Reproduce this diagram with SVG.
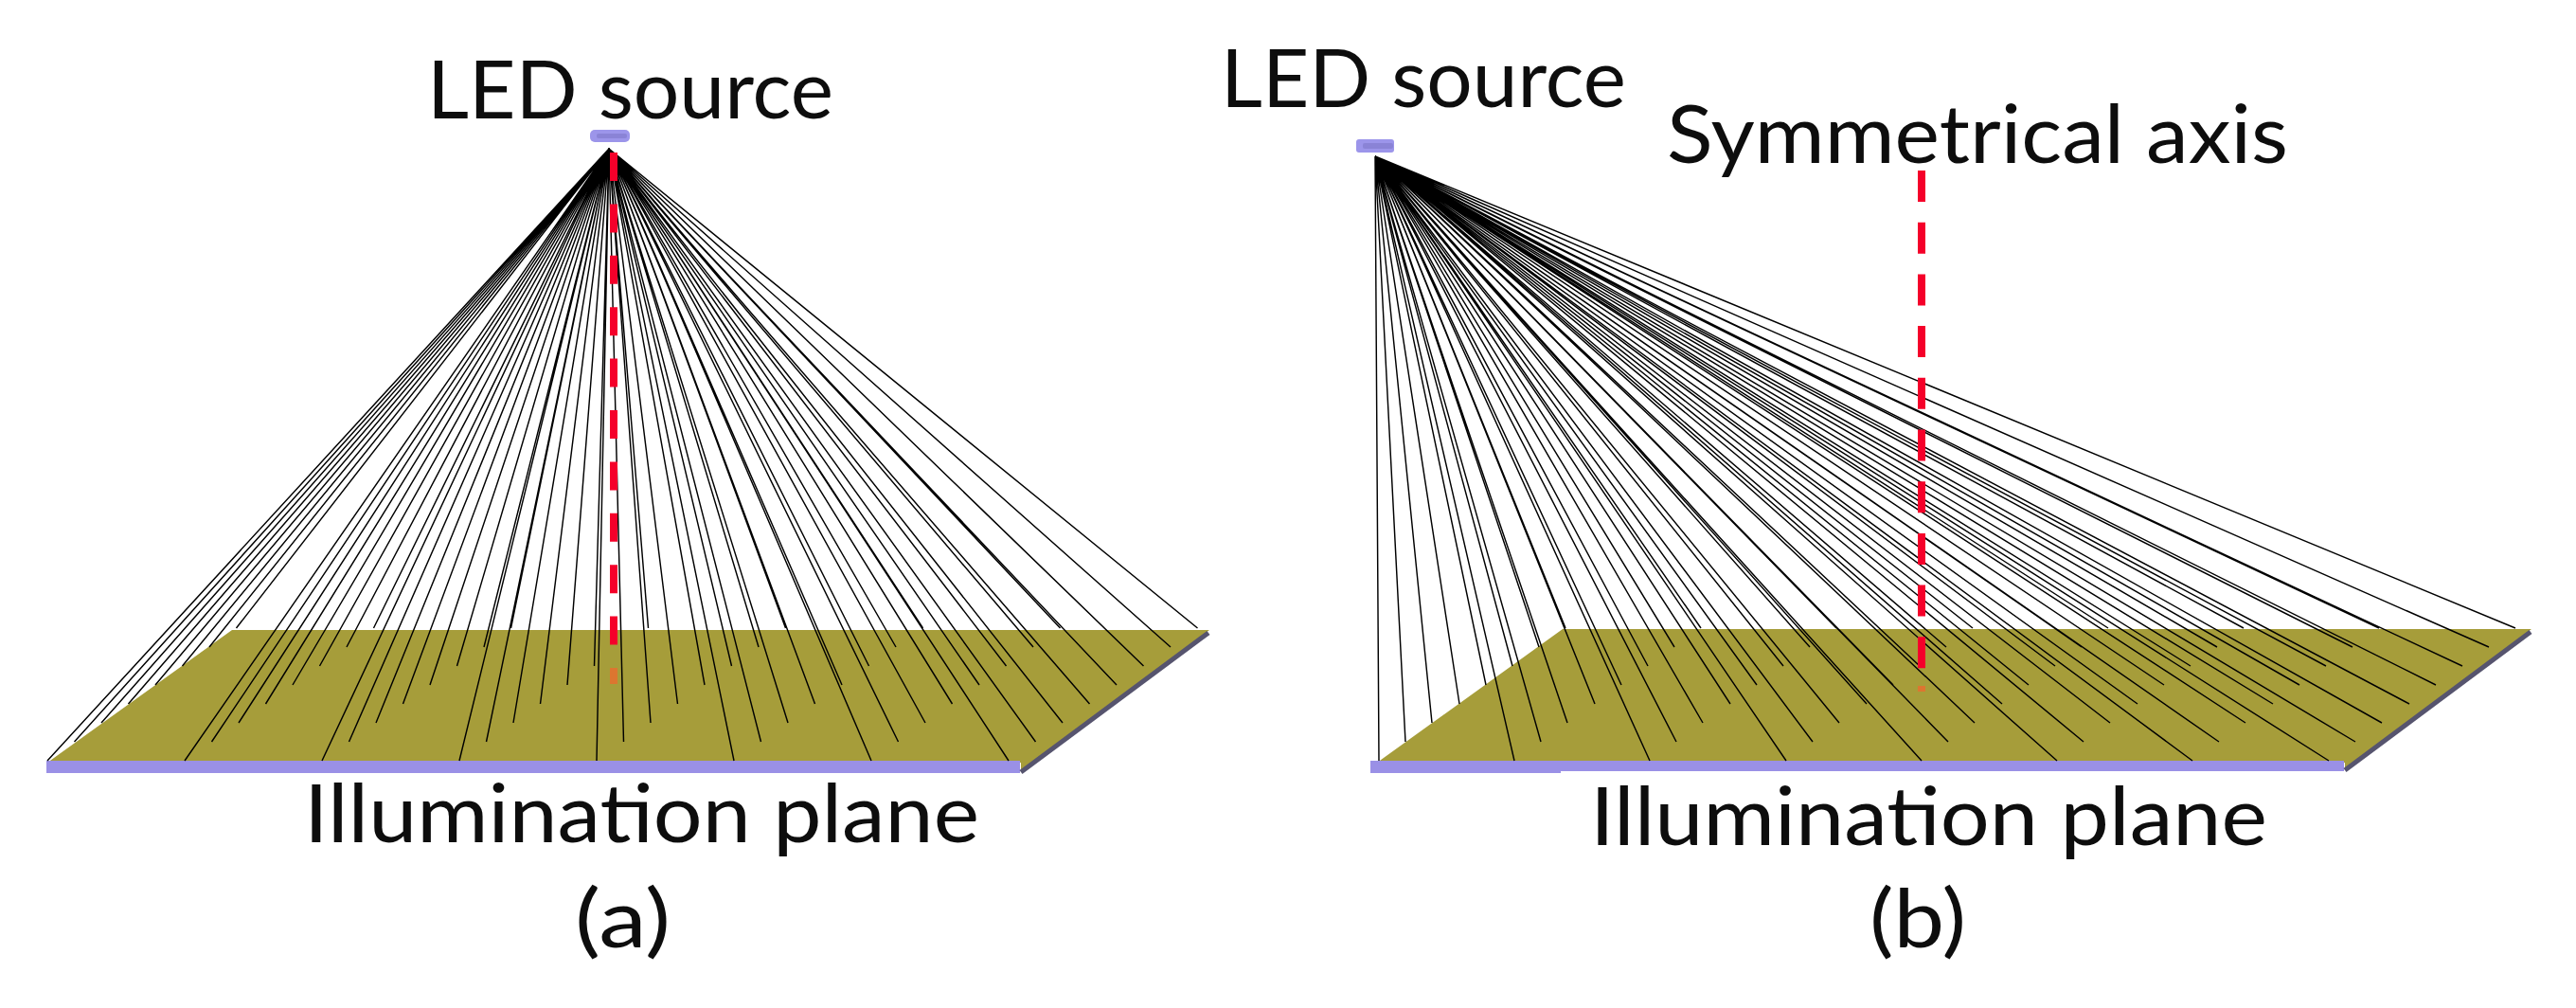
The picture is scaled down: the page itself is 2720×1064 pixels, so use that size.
<svg xmlns="http://www.w3.org/2000/svg" width="2720" height="1064" viewBox="0 0 2720 1064">
<defs>
<filter id="soft" filterUnits="userSpaceOnUse" x="0" y="0" width="2720" height="1064"><feGaussianBlur stdDeviation="0.7"/></filter>
<filter id="softer" filterUnits="userSpaceOnUse" x="0" y="0" width="2720" height="1064"><feGaussianBlur stdDeviation="0.6"/></filter>
</defs>
<style>
text{font-family:"Lato","Open Sans","Liberation Sans",sans-serif;font-size:86px;fill:#111;filter:url(#softer)}
.plane{fill:#a69d3a}
.bar{fill:#9a90e6}
.edge{stroke:#56546e;stroke-width:5;fill:none}
.led{fill:#9c95ea}
.ledc{fill:#8a83d6}
.rays{stroke:#000;stroke-width:1.45;fill:none;filter:url(#soft)}
.axis{stroke:#f5002a;stroke-width:8;fill:none;filter:url(#softer)}
.fade{stroke:#ee6a2c;stroke-width:8;fill:none;stroke-opacity:.75;filter:url(#softer)}
</style>
<rect width="2720" height="1064" fill="#fff"/>
<g id="plane-a">
<polygon class="plane" points="50,805 245,665 1277,665 1078,815 1078,805"/>
<rect class="bar" x="49" y="803" width="1028" height="13"/>
<line class="edge" x1="1276" y1="668" x2="1078" y2="815"/>
</g>
<g id="plane-b">
<polygon class="plane" points="1454,805 1650,664 2673,664 2476,813 2476,805"/>
<rect class="bar" x="1447" y="803" width="1028" height="11"/>
<rect class="bar" x="1447" y="812" width="201" height="4"/>
<line class="edge" x1="2672" y1="667" x2="2476" y2="813"/>
</g>
<g id="connectors">
<path id="rays-a" class="rays" d="M643 157L50 803M643 157L195 803M643 157L340 803M643 157L485 803M643 157L630 803M643 157L775 803M643 157L920 803M643 157L1065 803
M643 157L78.5 783M643 157L223.5 783M643 157L368.5 783M643 157L513.5 783M643 157L658.5 783M643 157L803.5 783M643 157L948.5 783M643 157L1093.5 783
M643 157L107 763M643 157L252 763M643 157L397 763M643 157L542 763M643 157L687 763M643 157L832 763M643 157L977 763M643 157L1122 763
M643 157L135.5 743M643 157L280.5 743M643 157L425.5 743M643 157L570.5 743M643 157L715.5 743M643 157L860.5 743M643 157L1005.5 743M643 157L1150.5 743
M643 157L164 723M643 157L309 723M643 157L454 723M643 157L599 723M643 157L744 723M643 157L889 723M643 157L1034 723M643 157L1179 723
M643 157L192.5 703M643 157L337.5 703M643 157L482.5 703M643 157L627.5 703M643 157L772.5 703M643 157L917.5 703M643 157L1062.5 703M643 157L1207.5 703
M643 157L221 683M643 157L366 683M643 157L511 683M643 157L656 683M643 157L801 683M643 157L946 683M643 157L1091 683M643 157L1236 683
M643 157L249.5 663M643 157L394.5 663M643 157L539.5 663M643 157L684.5 663M643 157L829.5 663M643 157L974.5 663M643 157L1119.5 663M643 157L1264.5 663"/>
<path id="rays-b" class="rays" d="M1452 165L1456 803M1452 165L1599 803M1452 165L1742 803M1452 165L1886 803M1452 165L2029 803M1452 165L2172 803M1452 165L2315 803M1452 165L2459 803
M1452 165L1484 783M1452 165L1627 783M1452 165L1770 783M1452 165L1914 783M1452 165L2057 783M1452 165L2200 783M1452 165L2343 783M1452 165L2487 783
M1452 165L1512 763M1452 165L1655 763M1452 165L1798 763M1452 165L1942 763M1452 165L2085 763M1452 165L2228 763M1452 165L2371 763M1452 165L2515 763
M1452 165L1541 743M1452 165L1684 743M1452 165L1827 743M1452 165L1971 743M1452 165L2114 743M1452 165L2257 743M1452 165L2400 743M1452 165L2544 743
M1452 165L1569 723M1452 165L1712 723M1452 165L1855 723M1452 165L1999 723M1452 165L2142 723M1452 165L2285 723M1452 165L2428 723M1452 165L2572 723
M1452 165L1597 703M1452 165L1740 703M1452 165L1883 703M1452 165L2027 703M1452 165L2170 703M1452 165L2313 703M1452 165L2456 703M1452 165L2600 703
M1452 165L1625 683M1452 165L1768 683M1452 165L1911 683M1452 165L2055 683M1452 165L2198 683M1452 165L2341 683M1452 165L2484 683M1452 165L2628 683
M1452 165L1653 663M1452 165L1796 663M1452 165L1939 663M1452 165L2083 663M1452 165L2226 663M1452 165L2369 663M1452 165L2512 663M1452 165L2656 663"/>
<line id="axis-a" class="axis" x1="648" y1="161" x2="648" y2="685" stroke-dasharray="30 24.4"/>
<line id="axis-a-end" class="fade" x1="648" y1="705" x2="648" y2="722"/>
<line id="axis-b" class="axis" x1="2029" y1="180" x2="2029" y2="706" stroke-dasharray="33 21.7"/>
<line id="axis-b-end" class="fade" x1="2029" y1="724" x2="2029" y2="730"/>
</g>
<g id="led-a"><rect class="led" x="623" y="137" width="42" height="13" rx="5"/><rect class="ledc" x="630" y="141" width="32" height="5" rx="2"/></g>
<g id="led-b"><rect class="led" x="1432" y="147" width="40" height="14" rx="3"/><rect class="ledc" x="1439" y="151" width="32" height="6" rx="2"/></g>
<g id="labels">
<text id="t1" x="451" y="125" textLength="429" lengthAdjust="spacingAndGlyphs">LED source</text>
<text id="t2" x="321" y="889" textLength="713" lengthAdjust="spacingAndGlyphs">Illumination plane</text>
<text id="t3" x="607" y="1000" textLength="101" lengthAdjust="spacingAndGlyphs">(a)</text>
<text id="t4" x="1289" y="113" textLength="428" lengthAdjust="spacingAndGlyphs">LED source</text>
<text id="t5" x="1760" y="172" textLength="656" lengthAdjust="spacingAndGlyphs">Symmetrical axis</text>
<text id="t6" x="1679" y="892" textLength="715" lengthAdjust="spacingAndGlyphs">Illumination plane</text>
<text id="t7" x="1974" y="1000" textLength="102" lengthAdjust="spacingAndGlyphs">(b)</text>
</g>
</svg>
